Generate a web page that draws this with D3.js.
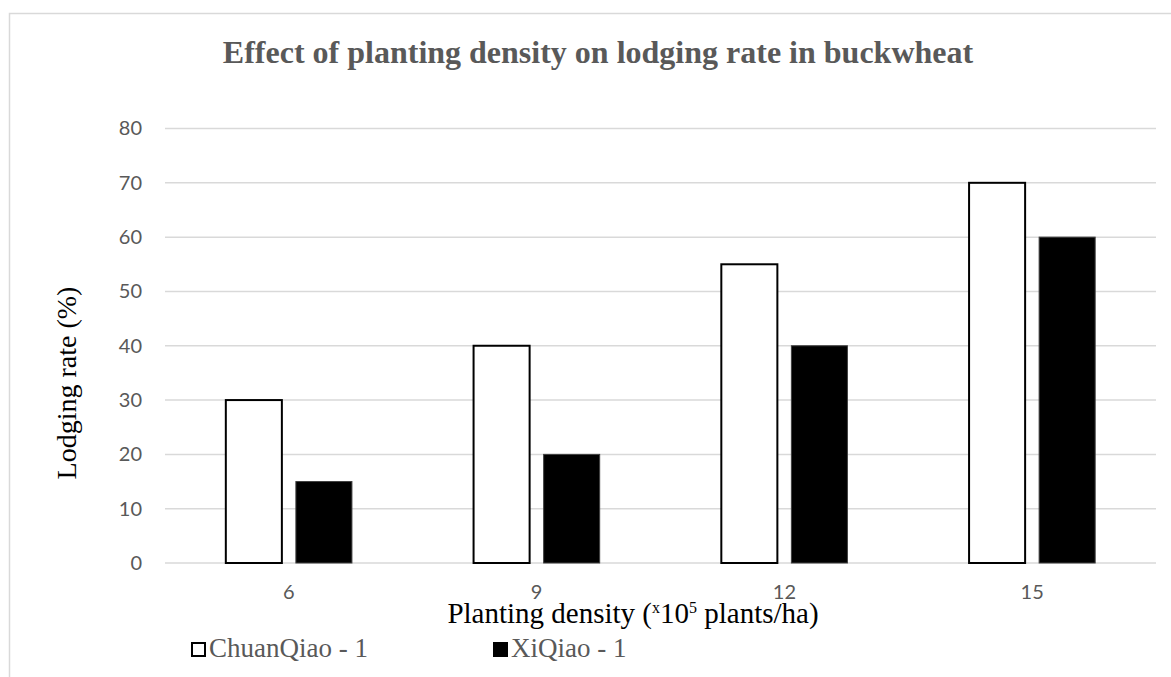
<!DOCTYPE html>
<html>
<head>
<meta charset="utf-8">
<script src="https://cdn.jsdelivr.net/npm/d3@7"></script>
<style>
  html, body { margin: 0; padding: 0; background: #fff; }
  svg { display: block; }
</style>
</head>
<body>
<svg id="chart" width="1171" height="677"></svg>
<script>
const categories = ["6", "9", "12", "15"];
const seriesNames = ["ChuanQiao - 1", "XiQiao - 1"];
const chuanQiao = [30, 40, 55, 70];
const xiQiao = [15, 20, 40, 60];
const yTicks = [0, 10, 20, 30, 40, 50, 60, 70, 80];

const svg = d3.select("#chart");
const W = 1171, H = 677;

// chart border
svg.append("rect")
  .attr("x", 9.5).attr("y", 13.5)
  .attr("width", W + 20).attr("height", H + 20)
  .attr("fill", "#fff").attr("stroke", "#d9d9d9").attr("stroke-width", 1.5);

const plot = { left: 165, right: 1156, top: 128.5, bottom: 563 };

const x0 = d3.scaleBand().domain(categories)
  .range([plot.left, plot.right]).paddingInner(0.491).paddingOuter(0.2455);
const x1 = d3.scaleBand().domain(seriesNames)
  .range([0, x0.bandwidth()]).paddingInner(0.2).paddingOuter(0);
const y = d3.scaleLinear().domain([0, 80]).range([plot.bottom, plot.top]);

// gridlines
svg.append("g").selectAll("line").data(yTicks).join("line")
  .attr("x1", plot.left).attr("x2", plot.right)
  .attr("y1", d => y(d)).attr("y2", d => y(d))
  .attr("stroke", "#d9d9d9").attr("stroke-width", 1.5);

// y axis labels
const yAxis = d3.axisLeft(y).tickValues(yTicks).tickSize(0).tickPadding(0);
const gy = svg.append("g").attr("transform", `translate(${plot.left - 23},0)`).call(yAxis);
gy.select(".domain").remove();
gy.selectAll("text")
  .attr("font-family", "Lato, 'Open Sans', sans-serif")
  .attr("font-size", 20).attr("fill", "#595959");

// x axis labels
const xAxis = d3.axisBottom(x0).tickSize(0).tickPadding(0);
const gx = svg.append("g").attr("transform", `translate(0,${plot.bottom + 22})`).call(xAxis);
gx.select(".domain").remove();
gx.selectAll("text")
  .attr("font-family", "Lato, 'Open Sans', sans-serif")
  .attr("font-size", 20).attr("fill", "#595959");

// bars
const data = categories.map((c, i) => ({ cat: c, vals: [chuanQiao[i], xiQiao[i]] }));
const groups = svg.append("g").selectAll("g").data(data).join("g")
  .attr("transform", d => `translate(${x0(d.cat)},0)`);
groups.selectAll("rect")
  .data(d => d.vals.map((v, j) => ({ name: seriesNames[j], v })))
  .join("rect")
  .attr("x", d => x1(d.name))
  .attr("y", d => y(d.v))
  .attr("width", x1.bandwidth())
  .attr("height", d => y(0) - y(d.v))
  .attr("fill", d => d.name === seriesNames[0] ? "#ffffff" : "#000000")
  .attr("stroke", d => d.name === seriesNames[0] ? "#000000" : "#404040")
  .attr("stroke-width", d => d.name === seriesNames[0] ? 2 : 1);

// title
svg.append("text")
  .attr("x", 598).attr("y", 63)
  .attr("text-anchor", "middle")
  .attr("font-family", "'Liberation Serif', 'Times New Roman', serif")
  .attr("font-weight", "bold").attr("font-size", 32).attr("fill", "#595959")
  .text("Effect of planting density on lodging rate in buckwheat");

// y title
svg.append("text")
  .attr("transform", "translate(76,383) rotate(-90)")
  .attr("text-anchor", "middle")
  .attr("font-family", "'Liberation Serif', 'Times New Roman', serif")
  .attr("font-size", 28).attr("fill", "#000")
  .text("Lodging rate (%)");

// x title
const xt = svg.append("text")
  .attr("x", 633).attr("y", 623)
  .attr("text-anchor", "middle")
  .attr("font-family", "'Liberation Serif', 'Times New Roman', serif")
  .attr("font-size", 29).attr("fill", "#000");
xt.append("tspan").text("Planting density (");
xt.append("tspan").attr("font-size", 16).attr("dy", -10).text("x");
xt.append("tspan").attr("dy", 10).text("10");
xt.append("tspan").attr("font-size", 16).attr("dy", -10).text("5");
xt.append("tspan").attr("dy", 10).text(" plants/ha)");

// legend
const legendX = [191, 493];
const lg = svg.append("g").selectAll("g").data(seriesNames).join("g")
  .attr("transform", (d, i) => `translate(${legendX[i]},0)`);
lg.append("rect")
  .attr("x", 1).attr("y", 643).attr("width", 13).attr("height", 13)
  .attr("fill", (d, i) => i === 0 ? "#fff" : "#000")
  .attr("stroke", "#000").attr("stroke-width", 2);
lg.append("text")
  .attr("x", 18).attr("y", 657)
  .attr("font-family", "'Liberation Serif', 'Times New Roman', serif")
  .attr("font-size", 27).attr("fill", "#595959")
  .text(d => d);
</script>
</body>
</html>
